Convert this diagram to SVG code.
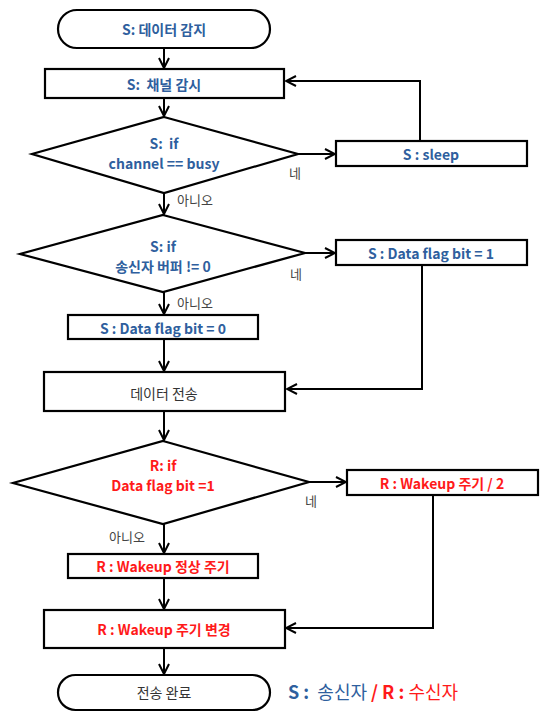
<svg xmlns="http://www.w3.org/2000/svg" width="540" height="713" viewBox="0 0 540 713">
<style>
.sh{fill:#fff;stroke:#000;stroke-width:2.2}
.ln{fill:none;stroke:#000;stroke-width:2}
.t{font-family:"Noto Sans CJK KR","Liberation Sans",sans-serif;font-size:14px;text-anchor:middle;dominant-baseline:central}
.b{fill:#2f5f9e;font-weight:bold}
.r{fill:#ff1a1a;font-weight:bold}
.g{fill:#333;}
.lb{font-family:"Noto Sans CJK KR","Liberation Sans",sans-serif;font-size:13px;fill:#444;dominant-baseline:central}
</style>
<defs>
<marker id="ah" viewBox="0 0 12 12" refX="11" refY="6" markerWidth="12" markerHeight="12" markerUnits="userSpaceOnUse" orient="auto">
<path d="M1,1 L11,6 L1,11" fill="none" stroke="#000" stroke-width="2"/>
</marker>
</defs>
<g id="connectors">
<line class="ln" x1="164" y1="48" x2="164" y2="68" marker-end="url(#ah)"/>
<line class="ln" x1="164" y1="98" x2="164" y2="116" marker-end="url(#ah)"/>
<line class="ln" x1="298" y1="154" x2="335" y2="154" marker-end="url(#ah)"/>
<polyline class="ln" points="420,141 420,81 286,81" marker-end="url(#ah)"/>
<line class="ln" x1="164" y1="193" x2="164" y2="214" marker-end="url(#ah)"/>
<line class="ln" x1="305" y1="253" x2="335" y2="253" marker-end="url(#ah)"/>
<polyline class="ln" points="422,265 422,389 287,389" marker-end="url(#ah)"/>
<line class="ln" x1="164" y1="292" x2="164" y2="314" marker-end="url(#ah)"/>
<line class="ln" x1="164" y1="339" x2="164" y2="371" marker-end="url(#ah)"/>
<line class="ln" x1="164" y1="411" x2="164" y2="440" marker-end="url(#ah)"/>
<line class="ln" x1="309" y1="482" x2="346" y2="482" marker-end="url(#ah)"/>
<polyline class="ln" points="433,495 433,628 286,628" marker-end="url(#ah)"/>
<line class="ln" x1="164" y1="524" x2="164" y2="553" marker-end="url(#ah)"/>
<line class="ln" x1="164" y1="578" x2="164" y2="609" marker-end="url(#ah)"/>
<line class="ln" x1="164" y1="648" x2="164" y2="674" marker-end="url(#ah)"/>
</g>
<g id="start">
<rect class="sh" x="58" y="10" width="212" height="38" rx="19"/>
<text class="t b" x="164" y="29">S: 데이터 감지</text>
</g>
<g id="monitor">
<rect class="sh" x="45" y="69" width="239" height="29"/>
<text class="t b" x="164" y="84" xml:space="preserve">S:  채널 감시</text>
</g>
<g id="busy">
<polygon class="sh" points="164,117 298,154 164,193 32,154"/>
<text class="t b" x="164" y="143" xml:space="preserve">S:  if</text>
<text class="t b" x="164" y="163">channel == busy</text>
<text class="lb" x="289" y="172">네</text>
<text class="lb" x="177" y="199">아니오</text>
</g>
<g id="sleep">
<rect class="sh" x="336" y="141" width="191" height="25"/>
<text class="t b" x="431" y="154">S : sleep</text>
</g>
<g id="buffer">
<polygon class="sh" points="163,215 305,253 163,292 20,254"/>
<text class="t b" x="163" y="246">S: if</text>
<text class="t b" x="163" y="266">송신자 버퍼 != 0</text>
<text class="lb" x="290" y="273">네</text>
<text class="lb" x="177" y="302">아니오</text>
</g>
<g id="flag1">
<rect class="sh" x="336" y="240" width="191" height="25"/>
<text class="t b" x="431" y="253">S : Data flag bit = 1</text>
</g>
<g id="flag0">
<rect class="sh" x="68" y="315" width="190" height="24"/>
<text class="t b" x="163" y="328">S : Data flag bit = 0</text>
</g>
<g id="send">
<rect class="sh" x="44" y="372" width="241" height="39"/>
<text class="t g" x="164" y="393">데이터 전송</text>
</g>
<g id="check">
<polygon class="sh" points="163,441 309,482 163,524 13,483"/>
<text class="t r" x="163" y="465">R: if</text>
<text class="t r" x="163" y="485">Data flag bit =1</text>
<text class="lb" x="305" y="500">네</text>
<text class="lb" x="109" y="536">아니오</text>
</g>
<g id="half">
<rect class="sh" x="347" y="470" width="191" height="25"/>
<text class="t r" x="442" y="483">R : Wakeup 주기 / 2</text>
</g>
<g id="normal">
<rect class="sh" x="68" y="554" width="190" height="24"/>
<text class="t r" x="163" y="566">R : Wakeup 정상 주기</text>
</g>
<g id="change">
<rect class="sh" x="44" y="610" width="241" height="38"/>
<text class="t r" x="164" y="629">R : Wakeup 주기 변경</text>
</g>
<g id="end">
<rect class="sh" x="58" y="675" width="212" height="35" rx="17.5"/>
<text class="t g" x="164" y="692">전송 완료</text>
</g>
<g id="legend">
<text x="288" y="691" xml:space="preserve" style="font-family:'Noto Sans CJK KR','Liberation Sans',sans-serif;font-size:18px;font-weight:bold;dominant-baseline:central"><tspan fill="#2f5f9e">S :  </tspan><tspan fill="#2f5f9e" font-weight="normal">송신자 </tspan><tspan fill="#ff1a1a">/ R : </tspan><tspan fill="#ff1a1a" font-weight="normal">수신자</tspan></text>
</g>
</svg>
